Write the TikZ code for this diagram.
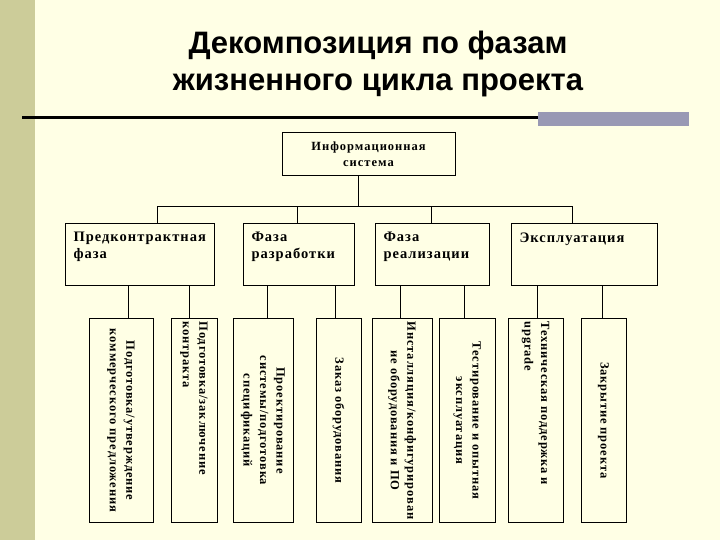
\documentclass[tikz,border=0pt]{standalone}
\usepackage{graphicx}
\usepackage{fontspec}
\setmainfont{Liberation Serif}
\newfontfamily\titlesans{Liberation Sans}
\newfontfamily\spacedserif{Liberation Serif}[LetterSpace=7]
\newfontfamily\widespacedserif{Liberation Serif}[LetterSpace=8]
\usetikzlibrary{positioning}

\definecolor{paper}{RGB}{255,255,229}
\definecolor{sidebar}{RGB}{204,204,153}
\definecolor{rulebar}{RGB}{153,153,180}

\newcommand{\leaffont}{\spacedserif\bfseries\fontsize{12.5}{16.5}\selectfont}
\newcommand{\phasefont}{\spacedserif\bfseries\fontsize{14.5}{17}\selectfont}
\newcommand{\infofont}{\widespacedserif\bfseries\fontsize{12.5}{16}\selectfont}
% text of the phase boxes sits in the top left corner
\newcommand{\phasetext}[2]{\parbox[c][44pt][t]{#1}{\raggedright #2}}
% text of the leaf boxes runs from top to bottom
\newcommand{\vlabel}[2][\centering]{\rotatebox{-90}{\parbox{198pt}{#1 #2}}}

\begin{document}
\begin{tikzpicture}[x=1pt, y=-1pt,
    box/.style={draw, line width=1pt, fill=paper, inner sep=0pt},
    phase/.style={box, anchor=north west, inner xsep=8pt, inner ysep=9pt, font=\phasefont},
    leaf/.style={box, anchor=north, minimum height=204pt, font=\leaffont},
    link/.style={line width=0.8pt}]

    % Slide background
    \fill[paper] (0,0) rectangle (720,540);
    \useasboundingbox (0,0) rectangle (720,540);
    \fill[sidebar] (0,0) rectangle (35,540);
    \fill[rulebar] (538,112) rectangle (689,126);
    \draw[line width=2.5pt] (22,117.5) -- (538,117.5);

    \node[anchor=north, align=center, inner sep=0pt,
          font=\titlesans\bfseries\fontsize{31}{37}\selectfont] (title) at (378,31)
        {Декомпозиция по фазам\\жизненного цикла проекта};

    % Root and phases
    \node[box, minimum width=173pt, minimum height=43pt, align=center, font=\infofont]
        (info) at (368.5,154.5) {Информационная\\система};
    \node[phase] (ph1) at (65,223) {\phasetext{133pt}{Предконтрактная\\фаза}};
    \node[phase] (ph2) at (243,223) {\phasetext{95pt}{Фаза\\разработки}};
    \node[phase] (ph3) at (375,223) {\phasetext{98pt}{Фаза\\реализации}};
    \node[phase] (ph4) at (511,223) {\phasetext{130pt}{Эксплуатация}};

    % Work packages
    \node[leaf, minimum width=64pt] (A) at (121,318)
        {\vlabel{Подготовка/утверждение\\коммерческого предложения}};
    \node[leaf, minimum width=46pt] (B) at (194,318)
        {\vlabel[\raggedright]{Подготовка/заключение\\контракта}};
    \node[leaf, minimum width=60pt] (C) at (263,318)
        {\vlabel{Проектирование\\системы/подготовка\\спецификаций}};
    \node[leaf, minimum width=45pt] (D) at (338.5,318)
        {\vlabel{Заказ оборудования}};
    \node[leaf, minimum width=60pt] (E) at (402,318)
        {\vlabel{Инсталляция/конфигурирован\\ие оборудования и ПО}};
    \node[leaf, minimum width=56pt] (F) at (467,318)
        {\vlabel{Тестирование и опытная\\эксплуатация}};
    \node[leaf, minimum width=55pt] (G) at (535.5,318)
        {\vlabel[\raggedright]{Техническая поддержка и\\upgrade}};
    \node[leaf, minimum width=45pt] (H) at (603.5,318)
        {\vlabel{Закрытие проекта}};

    % Connections
    \coordinate[yshift=-30pt] (bus) at ([xshift=-10.5pt]info.south);
    \draw[link] ([xshift=-10.5pt]info.south) -- (bus);
    \foreach \ph/\dx in {ph1/17.5, ph2/-1.5, ph3/-1, ph4/-12}
        \draw[link] ([xshift=\dx pt]\ph.north) |- (bus);
    \foreach \leaf/\ph/\dx in {A/ph1/7, B/ph1/-5, C/ph2/4, D/ph2/-3.5,
                              E/ph3/-2, F/ph3/-3, G/ph4/1.5, H/ph4/-1}
        \draw[link] ([xshift=\dx pt]\leaf.north) -- ([xshift=\dx pt]\leaf.north |- \ph.south);
\end{tikzpicture}
\end{document}
